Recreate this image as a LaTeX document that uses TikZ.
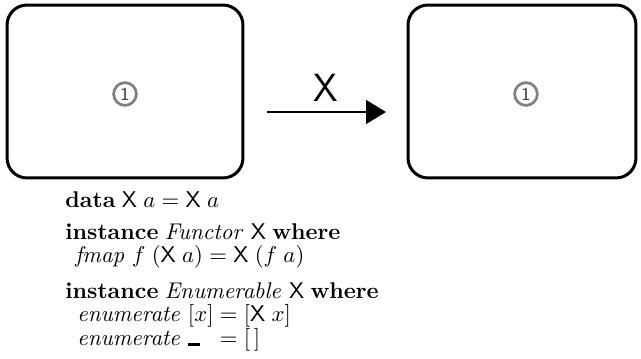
\documentclass[tikz,border=0pt]{standalone}
\usepackage{amsmath}
\usepackage{tikz}
\usetikzlibrary{arrows.meta}

\newcommand{\conX}{\mathsf{X}}
\newcommand{\kw}[1]{\textbf{#1}}
\newcommand{\vid}[1]{\mathit{#1}}
\newcommand{\anon}{\rule[-0.05em]{0.55em}{0.13em}}

\begin{document}
\begin{tikzpicture}[x=0.44pt,y=-0.44pt,
  box/.style={draw,line width=1.32pt,rounded corners=8.8pt,minimum height=76.1pt},
  num/.style={circle,draw=gray,line width=1.2pt,inner sep=0pt,minimum size=10pt,text=black!75,font=\sffamily\fontsize{8}{8}\selectfont},
  code/.style={anchor=base west,inner sep=0pt}]
\useasboundingbox (0,0) rectangle (641,359);
% the two boxes
\node[box,minimum width=103.8pt] (lbox) at (125,91.5) {};
\node[box,minimum width=100.3pt] (rbox) at (522,91.5) {};
\node[num] (lnum) at (125,94) {1};
\node[num] (rnum) at (526,94) {1};
% the arrow
\coordinate (arrS) at (267,112);
\coordinate (arrE) at (386,112);
\draw[-{Triangle[length=8.8pt,width=10.5pt]},line width=1.1pt] (arrS) -- (arrE);
\node[font=\LARGE\sffamily,anchor=base,inner sep=0pt] (lblX) at (326,102) {X};
% the code
\node[code] (ldata) at (65,208) {$\kw{data}\;\conX\;a = \conX\;a$};
\node[code] (linstF) at (65,240) {$\kw{instance}\;\vid{Functor}\;\conX\;\kw{where}$};
\node[code] (lfmap) at (75,263) {$\vid{fmap}\;f\;(\conX\;a) = \conX\;(f\;a)$};
\node[code] (linstE) at (65,298) {$\kw{instance}\;\vid{Enumerable}\;\conX\;\kw{where}$};
\node[code] (lenum) at (77,322) {$\vid{enumerate}\;[x] = [\conX\;x]$};
\node[code] (lenumA) at (77,345) {$\vid{enumerate}\;\rlap{\anon}\hphantom{[x]} = [\,]$};
\end{tikzpicture}
\end{document}
